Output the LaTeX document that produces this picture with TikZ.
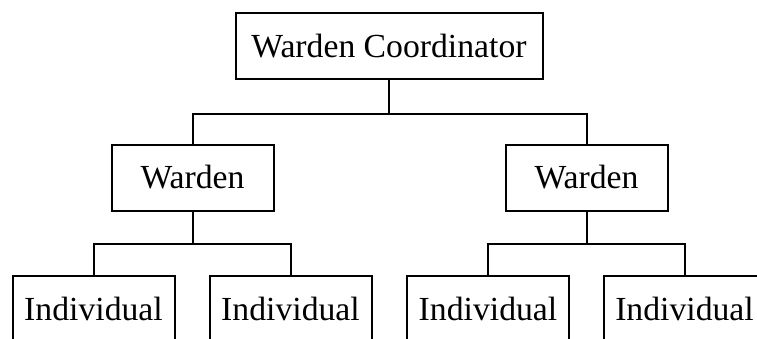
\documentclass[tikz,border=0pt]{standalone}
\usepackage{fontspec}
\setmainfont{Liberation Serif}
\begin{document}
\begin{tikzpicture}[x=1pt,y=-1pt,
  box/.style={draw, line width=2pt, minimum height=66pt, minimum width=162pt, inner sep=0pt, font=\fontsize{33.7}{40}\selectfont},
  conn/.style={line width=2pt}]
\useasboundingbox (0,0) rectangle (757,338);
\clip (0,0) rectangle (757,338);
\node[box, minimum width=307pt] (wc) at (389,46) {Warden Coordinator};
\node[box] (wl) at (192.5,177.5) {Warden};
\node[box] (wr) at (586.5,177.5) {Warden};
\node[box] (i1) at (93.5,308.5) {Individual};
\node[box] (i2) at (290.5,308.5) {Individual};
\node[box] (i3) at (488,308.5) {Individual};
\node[box] (i4) at (684.5,308.5) {Individual};
\draw[conn] (wc.south) -- ++(0,33.5) -| (wl.north);
\draw[conn] (wc.south) -- ++(0,33.5) -| (wr.north);
\draw[conn] (wl.south) -- ++(0,32) -| (i1.north);
\draw[conn] (wl.south) -- ++(0,32) -| (i2.north);
\draw[conn] (wr.south) -- ++(0,32) -| (i3.north);
\draw[conn] (wr.south) -- ++(0,32) -| (i4.north);
\end{tikzpicture}
\end{document}
